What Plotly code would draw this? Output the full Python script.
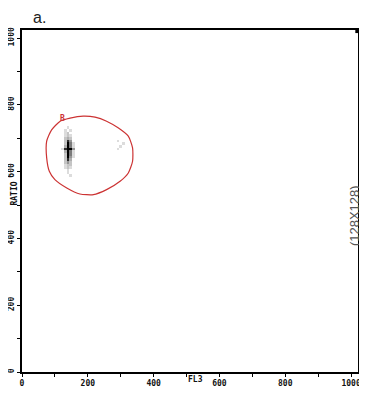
import plotly.graph_objects as go

# ---- data ----
x_ticks = [0, 200, 400, 600, 800, 1000]
y_ticks = [0, 200, 400, 600, 800, 1000]

# gate B polygon (FL3, RATIO)
gate_x = [90, 116, 146, 186, 222, 257, 292, 323, 336, 336, 323, 298, 257, 217, 176, 136, 100, 83, 75, 75, 90]
gate_y = [725, 751, 760, 766, 763, 751, 731, 706, 671, 631, 596, 571, 546, 531, 533, 551, 576, 601, 641, 691, 725]

# 128x128 histogram counts (bin width 8 channels); cluster block
cluster_xbins = [15, 16, 17, 18, 19, 20]
cluster_ybins = [91, 90, 89, 88, 87, 86, 85, 84, 83, 82, 81, 80, 79, 78, 77, 76, 75, 74, 73]
cluster_counts = [
    [0, 0, 1, 0, 0, 0],
    [0, 1, 0, 1, 0, 0],
    [0, 1, 2, 0, 0, 0],
    [0, 1, 2, 1, 0, 0],
    [0, 2, 3, 2, 0, 0],
    [0, 2, 8, 4, 0, 0],
    [0, 2, 10, 5, 1, 0],
    [0, 3, 10, 5, 1, 0],
    [1, 8, 10, 10, 4, 0],
    [0, 3, 10, 5, 1, 0],
    [0, 2, 10, 5, 1, 0],
    [0, 2, 10, 4, 1, 0],
    [0, 2, 8, 3, 0, 0],
    [0, 2, 4, 2, 0, 0],
    [0, 1, 2, 2, 0, 0],
    [0, 1, 2, 1, 0, 0],
    [0, 0, 1, 0, 0, 0],
    [0, 0, 1, 0, 0, 0],
    [0, 0, 0, 1, 0, 0],
]
# sparse events elsewhere (xbin, ybin, count)
sparse_xbins = [36, 37, 36, 38, 17]
sparse_ybins = [86, 84, 83, 85, 74]
sparse_counts = [1, 1, 1, 1, 1]

BIN = 8
NB = 128

# ---- build grid ----
z = [[None] * NB for _ in range(NB)]
for ri, yb in enumerate(cluster_ybins):
    for ci, xb in enumerate(cluster_xbins):
        c = cluster_counts[ri][ci]
        if c > 0:
            z[yb][xb] = c
for xb, yb, c in zip(sparse_xbins, sparse_ybins, sparse_counts):
    z[yb][xb] = c
centers = [i * BIN + BIN / 2 for i in range(NB)]

fig = go.Figure()
fig.add_trace(go.Heatmap(
    x=centers, y=centers, z=z, zmin=1, zmax=10,
    colorscale=[[0, "#dcdcdc"], [0.25, "#a8a8a8"], [0.7, "#404040"], [1, "#000000"]],
    showscale=False, hoverinfo="skip",
))
fig.add_trace(go.Scatter(
    x=gate_x, y=gate_y, mode="lines",
    line=dict(color="#cc3333", width=1.2, shape="spline", smoothing=0.6),
    hoverinfo="skip", showlegend=False,
))

tickfont = dict(family="DejaVu Sans Mono", size=8, color="#111", weight="bold")
axis_common = dict(
    showgrid=False, zeroline=False, showline=True, linecolor="black", linewidth=1.5,
    mirror=True, ticks="outside", ticklen=3, tickcolor="black", tickwidth=1,
    tickfont=tickfont, automargin=False,
    minor=dict(dtick=100, ticks="outside", ticklen=3, tickcolor="black", tickwidth=1),
)
fig.update_xaxes(range=[0, 1021], tickvals=x_ticks, ticktext=[str(v) for v in x_ticks], **axis_common)
fig.update_yaxes(range=[0, 1024], tickvals=y_ticks, ticktext=[str(v) for v in y_ticks],
                 tickangle=-90, **axis_common)

annots = [
    dict(text="a.", x=0.03, y=1.0643, xref="paper", yref="paper", xanchor="left", yanchor="top",
         borderpad=0, showarrow=False, font=dict(family="Liberation Sans", size=16, color="#222")),
    dict(text="RATIO", x=-0.042, y=0.523, xref="paper", yref="paper", textangle=-90,
         showarrow=False, font=dict(family="DejaVu Sans Mono", size=8, color="#111", weight="bold")),
    dict(text="FL3", x=0.515, y=-0.041, xref="paper", yref="paper",
         showarrow=False, font=dict(family="DejaVu Sans Mono", size=8, color="#111", weight="bold")),
    dict(text="(128X128)", x=1.0135, y=0.456, xref="paper", yref="paper", textangle=-90,
         borderpad=0, showarrow=False, font=dict(family="Liberation Sans", size=13, color="#555")),
    dict(text="B", x=124, y=760, xref="x", yref="y", showarrow=False,
         font=dict(family="DejaVu Sans Mono", size=8, color="#cc3333", weight="bold")),
]
# page body has an 8px margin, so the figure is sized to end at the window edge
fig.update_layout(
    width=359, height=387, margin=dict(l=14, r=9, t=22, b=23, autoexpand=False),
    paper_bgcolor="white", plot_bgcolor="white", showlegend=False,
    annotations=annots,
    shapes=[dict(type="rect", xref="paper", yref="paper", x0=0.992, x1=1.0, y0=0.991, y1=1.0,
                 fillcolor="black", line=dict(width=0))],
)
fig.write_html("out.html")
